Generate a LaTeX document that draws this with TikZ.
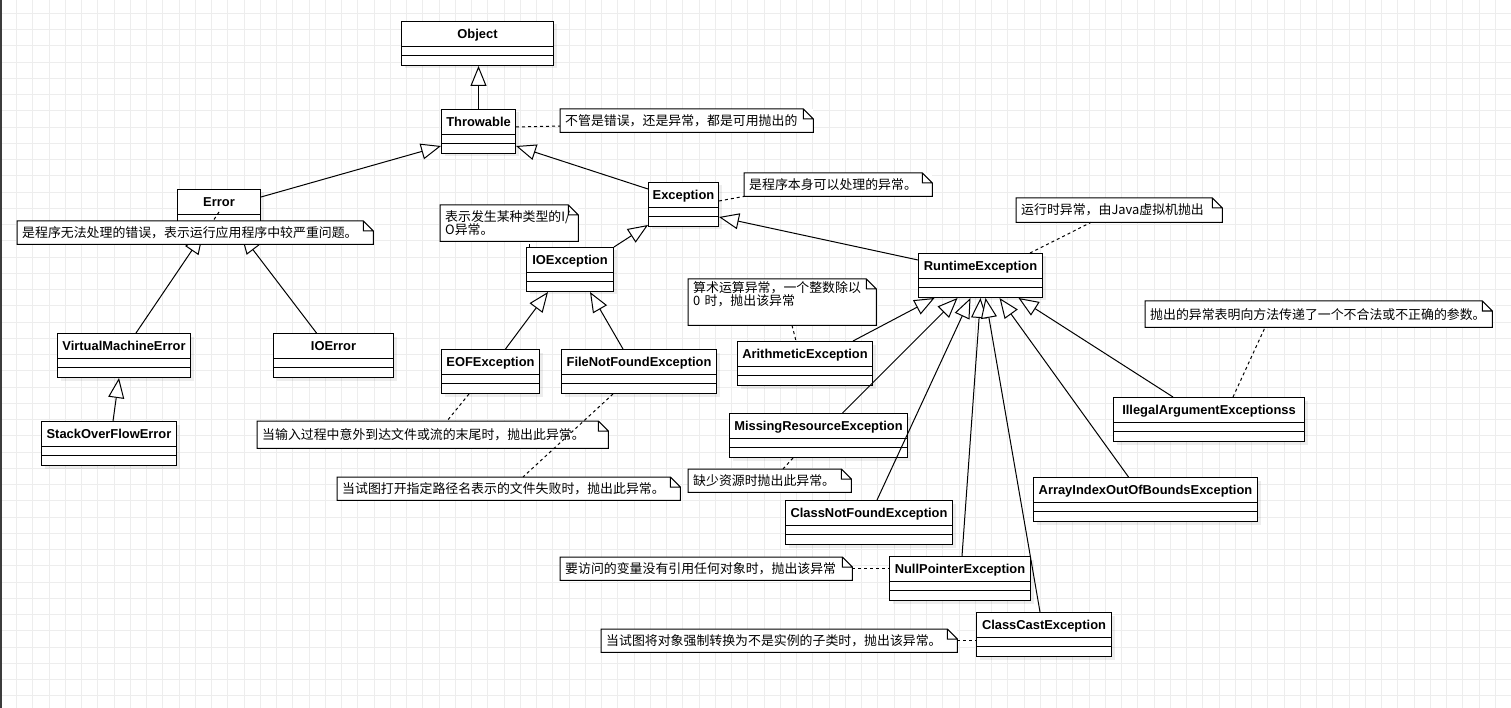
\documentclass[tikz,border=0pt]{standalone}
\usepackage{fontspec}
\setmainfont{Liberation Sans}
\newfontfamily\cjk{Noto Sans CJK SC}
\usetikzlibrary{arrows.meta,shadows}
\definecolor{gridc}{HTML}{EDEDED}
\definecolor{edgec}{HTML}{3C3C3C}

\begin{document}
\begin{tikzpicture}[x=1pt, y=-1pt,
      cls/.style={draw, fill=white, line width=1pt, anchor=north west, inner sep=0pt, minimum height=44pt,
        text height=9pt, text depth=19pt, font=\fontsize{12.9}{15}\selectfont\bfseries,
        drop shadow={shadow xshift=3pt, shadow yshift=-3pt, fill=black, opacity=0.07},
        path picture={\draw[line width=1pt] ([yshift=-25pt]path picture bounding box.north west) -- ([yshift=-25pt]path picture bounding box.north east)
          ([yshift=-34pt]path picture bounding box.north west) -- ([yshift=-34pt]path picture bounding box.north east);}},
      note/.style={fill=white, anchor=north west, inner xsep=5pt, inner ysep=0pt, align=left, font=\fontsize{12.9}{13.5}\selectfont\cjk},
      inh/.style={-{Triangle[length=20pt, width=16pt, fill=white]}, line width=1pt},
      link/.style={dash pattern=on 3pt off 3pt, line width=1pt},
      gridl/.style={draw=gridc, line width=1pt}]
    \useasboundingbox (0,0) rectangle (1511,708);
    \fill[white] (0,0) rectangle (1511,708);
    \foreach \i in {0,...,91} \draw[gridl] (16.7+16.25*\i,0) -- (16.7+16.25*\i,708);
    \foreach \j in {0,...,42} \draw[gridl] (0,13.3+16.25*\j) -- (1511,13.3+16.25*\j);
    \fill[edgec] (0,0) rectangle (2,708);

    % classes
    \node[cls, minimum width=152pt] (obj) at (401,21) {Object};
    \node[cls, minimum width=74pt] (thr) at (441,109) {Throwable};
    \node[cls, minimum width=83pt] (err) at (177,189) {Error};
    \node[cls, minimum width=70pt] (exc) at (648,182) {Exception};
    \node[cls, minimum width=87pt] (ioe) at (526,247) {IOException};
    \node[cls, minimum width=124pt] (rte) at (918,253) {RuntimeException};
    \node[cls, minimum width=133pt] (vme) at (57,333) {VirtualMachineError};
    \node[cls, minimum width=120pt] (ioerr) at (273,333) {IOError};
    \node[cls, minimum width=135pt] (soe) at (41,421) {StackOverFlowError};
    \node[cls, minimum width=98pt] (eof) at (441,349) {EOFException};
    \node[cls, minimum width=155pt] (fnf) at (561,349) {FileNotFoundException};
    \node[cls, minimum width=135pt] (ari) at (737,341) {ArithmeticException};
    \node[cls, minimum width=178pt] (mre) at (729,413) {MissingResourceException};
    \node[cls, minimum width=191pt] (iae) at (1113,397) {IllegalArgumentExceptionss};
    \node[cls, minimum width=224pt] (aio) at (1033,477) {ArrayIndexOutOfBoundsException};
    \node[cls, minimum width=167pt] (cnf) at (785,500) {ClassNotFoundException};
    \node[cls, minimum width=141pt] (npe) at (889,556) {NullPointerException};
    \node[cls, minimum width=135pt] (cce) at (976,612) {ClassCastException};

    % generalisation
    \draw[inh] (thr.north) -- (thr.north |- obj.south);
    \draw[inh] ([yshift=-8pt]err.north east) -- ([yshift=8pt]thr.south west);
    \draw[inh] ([yshift=-7pt]exc.north west) -- ([yshift=8pt]thr.south east);
    \draw[inh] (ioe.north east) -- ([yshift=2pt]exc.south west);
    \draw[inh] ([yshift=-7pt]rte.north west) -- ([yshift=10pt]exc.south east);
    \draw[inh] ([xshift=12pt]vme.north) -- ([xshift=-16pt]err.south);
    \draw[inh] ([xshift=-17pt]ioerr.north) -- ([xshift=22pt]err.south);
    \draw[inh] ([xshift=4pt]soe.north) -- ([xshift=-5pt]vme.south);
    \draw[inh] ([xshift=15pt]eof.north) -- ([xshift=-22pt]ioe.south);
    \draw[inh] ([xshift=-16pt]fnf.north) -- ([xshift=20pt]ioe.south);
    \draw[inh] ([xshift=-20pt]ari.north east) -- ([xshift=-46pt]rte.south);
    \draw[inh] ([xshift=24pt]mre.north) -- ([xshift=-23pt]rte.south);
    \draw[inh] ([xshift=8pt]cnf.north) -- ([xshift=-10pt]rte.south);
    \draw[inh] ([xshift=2pt]npe.north) -- (rte.south);
    \draw[inh] ([xshift=-4pt]cce.north) -- ([xshift=5pt]rte.south);
    \draw[inh] ([xshift=-17pt]aio.north) -- ([xshift=19pt]rte.south);
    \draw[inh] ([xshift=-36pt]iae.north) -- ([xshift=38pt]rte.south);

    % notes
    \node[note, text width=243pt, minimum height=23pt] (nthr) at (560,109) {不管是错误，还是异常，都是可用抛出的};
    \node[note, text width=346pt, minimum height=23pt] (nerr) at (17,221) {是程序无法处理的错误，表示运行应用程序中较严重问题。};
    \node[note, text width=178pt, minimum height=23pt] (nexc) at (744,173) {是程序本身可以处理的异常。};
    \node[note, text width=128pt, minimum height=36pt] (nio) at (440,205) {表示发生某种类型的I/\\O异常。};
    \node[note, text width=196pt, minimum height=24pt] (nrte) at (1016,198) {运行时异常，由Java虚拟机抛出};
    \node[note, text width=178pt, inner ysep=3pt, text height=10pt, text depth=30pt] (nari) at (688,279) {算术运算异常，一个整数除以\\0 时，抛出该异常};
    \node[note, text width=153pt, minimum height=23pt] (nmre) at (688,469) {缺少资源时抛出此异常。};
    \node[note, text width=337pt, minimum height=26pt] (niae) at (1145,301) {抛出的异常表明向方法传递了一个不合法或不正确的参数。};
    \node[note, text width=341pt, minimum height=27pt] (neof) at (257,421) {当输入过程中意外到达文件或流的末尾时，抛出此异常。};
    \node[note, text width=333pt, minimum height=23pt] (nfnf) at (337,477) {当试图打开指定路径名表示的文件失败时，抛出此异常。};
    \node[note, text width=282pt, minimum height=23pt] (nnpe) at (560,557) {要访问的变量没有引用任何对象时，抛出该异常};
    \node[note, text width=346pt, minimum height=23pt] (ncce) at (601,629) {当试图将对象强制转换为不是实例的子类时，抛出该异常。};
    \foreach \n in {nthr,nerr,nexc,nio,nrte,nari,nmre,niae,neof,nfnf,nnpe,ncce}
      \draw[line width=1pt] (\n.north west) -- ([xshift=-10pt]\n.north east) -- ([yshift=-10pt]\n.north east) -- (\n.south east) -- (\n.south west) -- cycle
        ([xshift=-10pt]\n.north east) |- ([yshift=-10pt]\n.north east);

    % note links
    \draw[link] ([yshift=-18pt]thr.north east) -- ([yshift=-17pt]nthr.north west);
    \draw[link] ([yshift=-23pt]err.north) -- ([xshift=196pt]nerr.north west);
    \draw[link] ([yshift=-19pt]exc.north east) -- (nexc.south west);
    \draw[link] ([xshift=3pt]ioe.north west) -- ([xshift=89pt]nio.south west);
    \draw[link] ([xshift=-13pt]rte.north east) -- ([xshift=75pt]nrte.south west);
    \draw[link] ([xshift=104pt]nari.south west) -- ([xshift=59pt]ari.north west);
    \draw[link] ([xshift=64pt]mre.south west) -- ([xshift=95pt]nmre.north west);
    \draw[link] ([xshift=24pt]iae.north) -- ([xshift=120pt]niae.south west);
    \draw[link] ([xshift=28pt]eof.south west) -- ([xshift=190pt]neof.north west);
    \draw[link] ([xshift=52pt]fnf.south west) -- ([xshift=186pt]nfnf.north west);
    \draw[link] (nnpe.east) -- (npe.west |- nnpe.east);
    \draw[link] (ncce.east) -- (cce.west |- ncce.east);
  \end{tikzpicture}
\end{document}
